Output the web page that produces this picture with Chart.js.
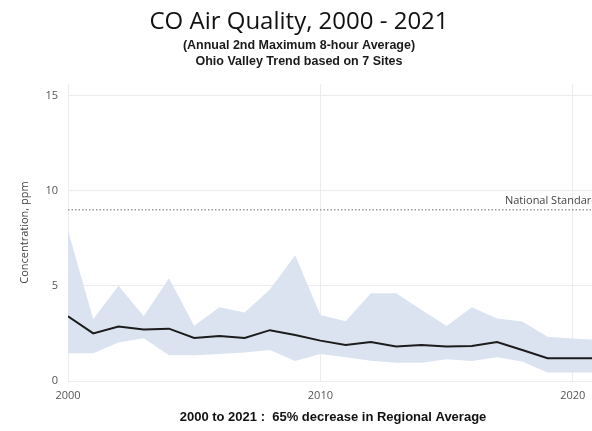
<!DOCTYPE html>
<html>
<head>
<meta charset="utf-8">
<script src="https://cdn.jsdelivr.net/npm/chart.js@4"></script>
<style>
  html, body { margin: 0; padding: 0; background: #fff; overflow: hidden; }
  #wrap { width: 666px; height: 431px; }
</style>
</head>
<body>
<div id="wrap"><canvas id="co-chart" width="666" height="431"></canvas></div>
<script>
//yearly values for the ohio valley CO sites (ppm)
const years = [2000, 2001, 2002, 2003, 2004, 2005, 2006, 2007, 2008, 2009, 2010,
               2011, 2012, 2013, 2014, 2015, 2016, 2017, 2018, 2019, 2020, 2021];
const regionalAvg = [3.4, 2.5, 2.86, 2.7, 2.75, 2.26, 2.37, 2.26, 2.67, 2.42, 2.12,
                     1.89, 2.05, 1.81, 1.89, 1.81, 1.84, 2.05, 1.63, 1.2, 1.2, 1.2];
const siteMax = [7.9, 3.25, 5.0, 3.4, 5.4, 2.9, 3.88, 3.6, 4.8, 6.6, 3.47,
                 3.14, 4.61, 4.61, 3.74, 2.89, 3.88, 3.28, 3.12, 2.33, 2.23, 2.16];
const siteMin = [1.46, 1.46, 2.02, 2.25, 1.35, 1.35, 1.42, 1.5, 1.63, 1.05, 1.42,
                 1.25, 1.07, 0.96, 0.96, 1.14, 1.05, 1.25, 1.02, 0.44, 0.44, 0.44];

const nationalStandard = 9;
const yTicks = [0, 5, 10, 15];
const xTicks = [2000, 2010, 2020];

const chartTitle = "CO Air Quality, 2000 - 2021";
const chartSubtitle = ["(Annual 2nd Maximum 8-hour Average)", "Ohio Valley Trend based on 7 Sites"];
const xTitle = "2000 to 2021 :  65% decrease in Regional Average";
const yTitle = "Concentration, ppm";
const standardLabel = "National Standard";

//pair each value with its year for the linear x axis
function toPoints(values) {
  return values.map((v, i) => ({ x: years[i], y: v }));
}

const gridColour = "#ececec";
const bandColour = "rgb(219, 227, 241)";

//writes the standard label just above the dotted line, right aligned
const standardLabelPlugin = {
  id: "standardLabel",
  afterDatasetsDraw(chart) {
    const { ctx, chartArea, scales } = chart;
    const y = scales.y.getPixelForValue(nationalStandard);
    ctx.save();
    ctx.font = "11px 'Open Sans'";
    ctx.fillStyle = "#444";
    ctx.textAlign = "right";
    ctx.textBaseline = "bottom";
    ctx.fillText(standardLabel, chartArea.right, y - 3);
    ctx.restore();
  }
};

new Chart(document.getElementById("co-chart"), {
  type: "line",
  data: {
    datasets: [
      {
        //upper edge of the site range, filled down to the min series
        data: toPoints(siteMax),
        borderWidth: 0,
        pointRadius: 0,
        backgroundColor: bandColour,
        fill: "+1",
        tension: 0,
        order: 3,
      },
      {
        data: toPoints(siteMin),
        borderWidth: 0,
        pointRadius: 0,
        fill: false,
        tension: 0,
        order: 2,
      },
      {
        data: toPoints(regionalAvg),
        borderColor: "#1c1c1c",
        borderWidth: 2,
        pointRadius: 0,
        fill: false,
        tension: 0,
        order: 0,
      },
      {
        data: [{ x: years[0], y: nationalStandard }, { x: years[years.length - 1], y: nationalStandard }],
        borderColor: "#9a9a9a",
        borderWidth: 1.5,
        borderDash: [1.5, 2],
        pointRadius: 0,
        fill: false,
        order: 1,
      },
    ]
  },
  options: {
    responsive: false,
    animation: false,
    layout: { padding: { left: 0, right: 68, top: 0, bottom: 0 } },
    plugins: {
      legend: { display: false },
      tooltip: { enabled: false },
      //paint the band under every line
      filler: { drawTime: "beforeDatasetsDraw" },
      title: {
        display: true,
        text: chartTitle,
        color: "#111",
        font: { family: "'Open Sans'", size: 24, weight: "normal", lineHeight: 1.2 },
        padding: { top: 7.6, bottom: 0.6 },
      },
      subtitle: {
        display: true,
        text: chartSubtitle,
        color: "#1a1a1a",
        font: { family: "'Liberation Sans', Arial", size: 12.5, weight: "bold", lineHeight: 1.24 },
        padding: { top: 0.8, bottom: 15.2 },
      },
    },
    scales: {
      x: {
        type: "linear",
        min: years[0],
        max: years[years.length - 1],
        afterBuildTicks(scale) { scale.ticks = xTicks.map(v => ({ value: v })); },
        afterFit(scale) { scale.height = 50; },
        ticks: {
          color: "#555",
          font: { family: "'Open Sans'", size: 11 },
          padding: 8,
          maxRotation: 0,
          callback: v => String(v),
        },
        grid: { color: gridColour, drawTicks: false },
        border: { display: false },
        title: {
          display: true,
          text: xTitle,
          color: "#111",
          font: { family: "'Liberation Sans', Arial", size: 13, weight: "bold", lineHeight: 1.2 },
          padding: { top: 0, bottom: 6 },
        },
      },
      y: {
        min: 0,
        max: 15.6,
        afterBuildTicks(scale) { scale.ticks = yTicks.map(v => ({ value: v })); },
        afterFit(scale) { scale.width = 68; },
        ticks: {
          color: "#555",
          font: { family: "'Open Sans'", size: 11 },
          padding: 10,
        },
        grid: { color: gridColour, drawTicks: false },
        border: { display: false },
        title: {
          display: true,
          text: yTitle,
          color: "#444",
          font: { family: "'Open Sans'", size: 11 },
          padding: { top: 18, bottom: 0 },
        },
      },
    },
  },
  plugins: [standardLabelPlugin],
});
</script>
</body>
</html>
